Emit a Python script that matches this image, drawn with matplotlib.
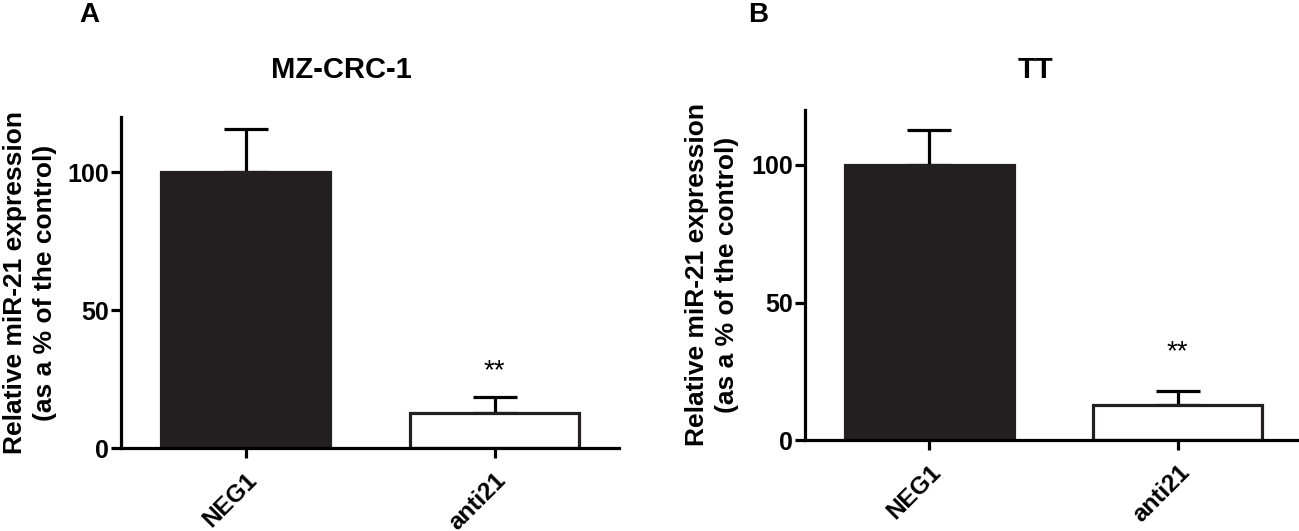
import matplotlib
matplotlib.use('Agg')
import matplotlib.pyplot as plt

plt.rcParams['font.family'] = ['Liberation Sans', 'DejaVu Sans']

# dados
categorias = ['NEG1', 'anti21']
mz_media = [100, 12.8]
mz_erro = [15.5, 5.8]
tt_media = [100, 12.7]
tt_erro = [12.7, 5.0]
estrelas_y = [28.0, 32.0]   # altura do "**" em cada painel
titulos = ['MZ-CRC-1', 'TT']
letras = ['A', 'B']

W, H = 1299, 531
fig = plt.figure(figsize=(W / 100, H / 100), dpi=100)

# posicoes dos eixos em pixels: (esquerda, topo, direita, base)
caixas = [(121, 117, 619, 448), (805, 110, 1302, 440)]
titulo_x = [341, 1036]
letra_x = [89, 758]
ylabel_x = [30, 712]

lw = 2.3
ylabel = 'Relative miR-21 expression\n(as a % of the control)'

for i, (media, erro) in enumerate([(mz_media, mz_erro), (tt_media, tt_erro)]):
    l, t, r, b = caixas[i]
    ax = fig.add_axes([l / W, 1 - b / H, (r - l) / W, (b - t) / H])
    x = range(len(categorias))

    ax.errorbar(x, media, yerr=[[0] * len(erro), erro], fmt='none',
                ecolor='black', elinewidth=lw, capsize=15.5, capthick=lw, zorder=1)
    ax.bar(x, media, width=0.68, color=['#231f20', 'white'],
           edgecolor='#231f20', linewidth=lw, zorder=2)

    ax.set_xlim(-0.5, 1.5)
    ax.set_ylim(0, 120)
    ax.set_yticks([0, 50, 100])
    ax.set_xticks(list(x))
    ax.set_xticklabels(categorias, rotation=45, ha='right', va='top',
                       rotation_mode='anchor', fontsize=17.5, fontweight='bold')
    for lab in ax.get_yticklabels():
        lab.set_fontsize(18)
        lab.set_fontweight('bold')

    ax.spines['top'].set_visible(False)
    ax.spines['right'].set_visible(False)
    ax.spines['left'].set_linewidth(lw)
    ax.spines['bottom'].set_linewidth(lw)
    ax.tick_params(axis='y', length=7.5, width=lw, pad=1)
    ax.tick_params(axis='x', length=7, width=lw, pad=8)

    ax.text(1, estrelas_y[i], '**', ha='center', va='center', fontsize=20)

    cy = (t + b) / 2
    fig.text(ylabel_x[i] / W, 1 - cy / H, ylabel, rotation=90, ha='center',
             va='center', fontsize=19, fontweight='bold', linespacing=1.3)
    fig.text(titulo_x[i] / W, 1 - 70 / H, titulos[i], ha='center', va='center',
             fontsize=21, fontweight='bold')
    fig.text(letra_x[i] / W, 1 - 15 / H, letras[i], ha='center', va='center',
             fontsize=20, fontweight='bold')

fig.savefig('out.png', dpi=100)
